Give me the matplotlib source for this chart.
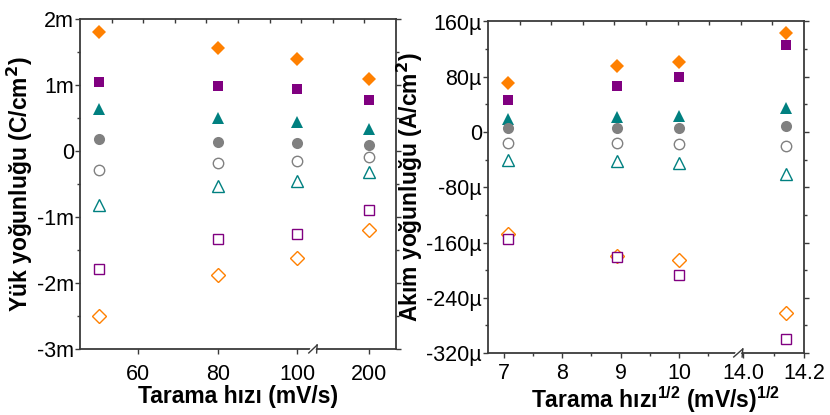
import numpy as np
import matplotlib
matplotlib.use("Agg")
import matplotlib.pyplot as plt
from matplotlib.transforms import blended_transform_factory

plt.rcParams['font.family'] = ['Liberation Sans', 'DejaVu Sans']

# ---- data -------------------------------------------------------------
scan_rate = [50, 80, 100, 200]                       # mV/s
sqrt_rate = [7.07, 8.94, 10.0, 14.14]                # (mV/s)^1/2

# charge density (C/cm^2)
q_anod_D = [1.80e-3, 1.555e-3, 1.40e-3, 1.09e-3]
q_anod_s = [1.04e-3, 0.98e-3, 0.935e-3, 0.77e-3]
q_anod_t = [0.63e-3, 0.495e-3, 0.435e-3, 0.34e-3]
q_anod_o = [0.18e-3, 0.14e-3, 0.115e-3, 0.085e-3]
q_cath_o = [-0.29e-3, -0.18e-3, -0.147e-3, -0.086e-3]
q_cath_t = [-0.82e-3, -0.526e-3, -0.45e-3, -0.318e-3]
q_cath_s = [-1.79e-3, -1.34e-3, -1.257e-3, -0.90e-3]
q_cath_D = [-2.505e-3, -1.88e-3, -1.62e-3, -1.19e-3]

# current density (A/cm^2)
i_anod_D = [71.6e-6, 95.3e-6, 101e-6, 143.6e-6]
i_anod_s = [47e-6, 66.3e-6, 79.3e-6, 126e-6]
i_anod_t = [18.4e-6, 21.8e-6, 23.8e-6, 35.4e-6]
i_anod_o = [5.4e-6, 6.4e-6, 6.4e-6, 9.3e-6]
i_cath_o = [-16.4e-6, -16e-6, -16.9e-6, -20.7e-6]
i_cath_t = [-40.6e-6, -41.5e-6, -44.4e-6, -60.4e-6]
i_cath_D = [-147.9e-6, -179.3e-6, -186e-6, -262.5e-6]
i_cath_s = [-155.2e-6, -181.7e-6, -206.8e-6, -300.2e-6]

left_xticks = [60, 80, 100, 200]
left_xticklabels = ['60', '80', '100', '200']
left_yticks = [2e-3, 1e-3, 0, -1e-3, -2e-3, -3e-3]
left_yticklabels = ['2m', '1m', '0', '-1m', '-2m', '-3m']

right_xticks = [7, 8, 9, 10, 14.0, 14.2]
right_xticklabels = ['7', '8', '9', '10', '14.0', '14.2']
right_yticks = [160e-6, 80e-6, 0, -80e-6, -160e-6, -240e-6, -320e-6]
right_yticklabels = ['160µ', '80µ', '0', '-80µ', '-160µ', '-240µ', '-320µ']

ORANGE = '#FF8000'
PURPLE = '#800080'
TEAL = '#008080'
GRAY = '#808080'
SPINE = '#3a3a3a'


def broken_scale(lo, hi, k, c=0.002):
    """Axis scale that squeezes (lo, hi) and stretches x > hi by factor k."""
    def fwd(x):
        x = np.asarray(x, dtype=float)
        return np.where(x <= lo, x,
                        np.where(x <= hi, lo + (x - lo) * c,
                                 lo + (hi - lo) * c + (x - hi) * k))

    def inv(y):
        y = np.asarray(y, dtype=float)
        g = lo + (hi - lo) * c
        return np.where(y <= lo, y,
                        np.where(y <= g, lo + (y - lo) / c,
                                 hi + (y - g) / k))
    return fwd, inv


fig = plt.figure(figsize=(8.3, 4.15), dpi=100)
axL = fig.add_axes([80 / 830, 1 - 349 / 415, 316 / 830, 330 / 415])
axR = fig.add_axes([488 / 830, 1 - 353 / 415, 316 / 830, 331.5 / 415])

filled = dict(linestyle='none', markeredgewidth=0)
hollow = dict(linestyle='none', markerfacecolor='white', markeredgewidth=1.0)


def draw_series(ax, x, series):
    for y, m, col, ms, fill in series:
        if fill:
            ax.plot(x, y, marker=m, color=col, markersize=ms, **filled)
        else:
            ax.plot(x, y, marker=m, markeredgecolor=col, markersize=ms, **hollow)


draw_series(axL, scan_rate, [
    (q_anod_D, 'D', ORANGE, 7.5, True),
    (q_anod_s, 's', PURPLE, 7.5, True),
    (q_anod_t, '^', TEAL, 9, True),
    (q_anod_o, 'o', GRAY, 8, True),
    (q_cath_o, 'o', GRAY, 7.5, False),
    (q_cath_t, '^', TEAL, 8.5, False),
    (q_cath_s, 's', PURPLE, 7, False),
    (q_cath_D, 'D', ORANGE, 7, False),
])

draw_series(axR, sqrt_rate, [
    (i_anod_D, 'D', ORANGE, 7.5, True),
    (i_anod_s, 's', PURPLE, 7.5, True),
    (i_anod_t, '^', TEAL, 9, True),
    (i_anod_o, 'o', GRAY, 8, True),
    (i_cath_o, 'o', GRAY, 7.5, False),
    (i_cath_t, '^', TEAL, 8.5, False),
    (i_cath_D, 'D', ORANGE, 7, False),
    (i_cath_s, 's', PURPLE, 7, False),
])

# x scales with an axis break
fL = broken_scale(105, 187, 1.0)
axL.set_xscale('function', functions=fL)
axL.set_xlim(45.3, 206.7)
fR = broken_scale(11.09, 14.0, 5.21)
axR.set_xscale('function', functions=fR)
axR.set_xlim(6.73, 14.2)

axL.set_ylim(-3e-3, 2e-3)
axR.set_ylim(-320e-6, 160e-6)

axL.set_xticks(left_xticks)
axL.set_xticklabels(left_xticklabels)
axL.set_xticks([], minor=True)
axL.set_yticks(left_yticks)
axL.set_yticklabels(left_yticklabels)
axL.set_yticks([1.5e-3, 0.5e-3, -0.5e-3, -1.5e-3, -2.5e-3], minor=True)

axR.set_xticks(right_xticks)
axR.set_xticklabels(right_xticklabels)
axR.set_xticks([7.5, 8.5, 9.5, 10.5, 14.1], minor=True)
axR.set_yticks(right_yticks)
axR.set_yticklabels(right_yticklabels)
axR.set_yticks([120e-6, 40e-6, -40e-6, -120e-6, -200e-6, -280e-6], minor=True)

for ax in (axL, axR):
    for s in ax.spines.values():
        s.set_color(SPINE)
        s.set_linewidth(1.3)
    ax.tick_params(axis='both', which='major', direction='out', length=3.5,
                   width=1.0, color=SPINE, labelsize=15.5, pad=1)
    ax.tick_params(axis='both', which='minor', direction='out', length=2.5,
                   width=1.0, color=SPINE)
    ax.tick_params(axis='y', which='both', right=True)
    # top axis with its own evenly spaced inward ticks
    top = ax.twiny()
    top.set_xlim(0, 1)
    top.set_xticks(np.arange(1, 10) / 10)
    top.tick_params(axis='x', direction='in', length=3, width=1.0, color=SPINE,
                    labeltop=False)
    for s in top.spines.values():
        s.set_visible(False)

axL.tick_params(axis='x', which='major', pad=7)
axR.tick_params(axis='x', which='major', pad=4)

# break marks on the bottom spines
for ax, xb, dx in ((axL, 105.1, 2.2), (axR, 11.095, 0.16)):
    tr = blended_transform_factory(ax.transData, ax.transAxes)
    ax.plot([xb - dx, xb + dx], [-0.035, 0.035], transform=tr, color='white',
            lw=4, clip_on=False, zorder=5, solid_capstyle='butt')
    for off in (-0.45, 0.45):
        xs = xb + off * dx
        ax.plot([xs - dx * 0.55, xs + dx * 0.55], [-0.012, 0.012], transform=tr,
                color=SPINE, lw=1.0, clip_on=False, zorder=6)

LBL = dict(fontsize=16.5, fontweight='bold')
axL.set_xlabel('Tarama hızı (mV/s)', labelpad=0, **LBL)
axL.set_ylabel('Yük yoğunluğu (C/cm$^\\mathbf{2}$)', labelpad=1, **LBL)
axR.set_xlabel('Tarama hızı$^\\mathregular{1/2}$ (mV/s)$^\\mathregular{1/2}$',
               labelpad=0, **LBL)
axR.xaxis.label.set_x(0.53)
axR.set_ylabel('Akım yoğunluğu (A/cm$^\\mathbf{2}$)', labelpad=1, **LBL)

fig.savefig('out.png', dpi=100)
